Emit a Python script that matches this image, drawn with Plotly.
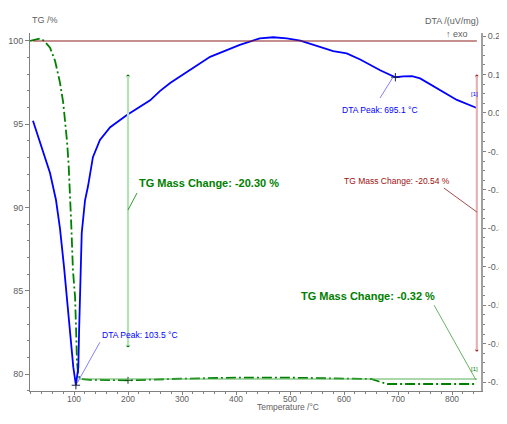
import plotly.graph_objects as go

# ---- data ----
tg_temp = [18.5, 26, 37, 45, 55.6, 65, 74, 80, 85, 87, 90, 92.6, 95, 98, 102, 104, 105.5, 108, 111,
           130, 200, 300, 400, 500, 600, 650, 665, 680, 700, 750, 800, 846]
tg_val = [100.0, 100.05, 100.15, 100.0, 99.6, 98.8, 97.5, 96.3, 94.8, 94.0, 92.6, 91.05, 88.9, 86.25, 84.6,
          82.5, 80.7, 79.95, 79.7, 79.65, 79.62, 79.72, 79.78, 79.78, 79.75, 79.7, 79.55, 79.4, 79.4, 79.4, 79.4, 79.4]

dta_temp = [24, 32, 40, 55.6, 66.7, 74, 81.5, 87.6, 92.6, 98.7, 103.5, 108, 109.3, 110.6, 112.4, 114.3,
            120.4, 126, 135, 148, 167, 198, 241, 259, 278, 296, 352, 407, 444, 469, 494, 519, 550, 580,
            605, 630, 667, 691, 695.1, 710, 726, 741, 778, 809, 846]
dta_val = [-0.02, -0.055, -0.09, -0.156, -0.227, -0.30, -0.40, -0.487, -0.573, -0.661, -0.708, -0.661,
           -0.573, -0.487, -0.401, -0.312, -0.227, -0.19, -0.115, -0.07, -0.037, -0.005, 0.033, 0.057,
           0.078, 0.094, 0.146, 0.177, 0.194, 0.197, 0.194, 0.188, 0.174, 0.161, 0.155, 0.139, 0.111,
           0.094, 0.093, 0.095, 0.096, 0.09, 0.06, 0.034, 0.013]

x_ticks = [100, 200, 300, 400, 500, 600, 700, 800]
tg_ticks = [80, 85, 90, 95, 100]
dta_tickvals = [0.2, 0.1, 0.0, -0.1, -0.2, -0.3, -0.4, -0.5, -0.6, -0.7]
dta_ticktext = ["0.20", "0.10", "0.0", "-0.10", "-0.20", "-0.30", "-0.40", "-0.50", "-0.60", "-0.70"]

step1_temp = 200
step1_range = [97.9, 81.7]
step1_label = "TG Mass Change: -20.30 %"
step2_label = "TG Mass Change: -0.32 %"
total_temp = 846
total_range = [97.9, 81.44]
total_label = "TG Mass Change: -20.54 %"
tg_level_after = 79.7
peak1 = (103.5, -0.708)
peak2 = (695.1, 0.093)

FONT = "Liberation Sans, Arial, sans-serif"
GREEN = "#008000"
BLUE = "#0000ff"
DRED = "#8b2020"
GRAY = "#606060"

fig = go.Figure()

fig.add_trace(go.Scatter(x=tg_temp, y=tg_val, mode="lines", yaxis="y",
                         line=dict(color=GREEN, width=1.8, dash="10px,3px,2px,3px"), showlegend=False))
fig.add_trace(go.Scatter(x=dta_temp, y=dta_val, mode="lines", yaxis="y2",
                         line=dict(color=BLUE, width=1.8), showlegend=False))

# baseline at 100 %
fig.add_shape(type="line", xref="x", yref="y", x0=24, x1=total_temp, y0=100, y1=100,
              line=dict(color=DRED, width=1.2))
# horizontal level after first step
fig.add_shape(type="line", xref="x", yref="y", x0=110, x1=total_temp, y0=tg_level_after, y1=tg_level_after,
              line=dict(color="#55b055", width=1))
# step 1 vertical
fig.add_shape(type="line", xref="x", yref="y", x0=step1_temp, x1=step1_temp, y0=step1_range[0], y1=step1_range[1],
              line=dict(color="#b8e0b8", width=2.2))
# total vertical (red)
fig.add_shape(type="line", xref="x", yref="y", x0=total_temp, x1=total_temp, y0=total_range[0], y1=total_range[1],
              line=dict(color="#e8b0b0", width=2.2))
# end dots
fig.add_trace(go.Scatter(x=[step1_temp, step1_temp], y=step1_range, mode="markers", yaxis="y",
                         marker=dict(color=GREEN, size=3), showlegend=False))
fig.add_trace(go.Scatter(x=[total_temp, total_temp], y=total_range, mode="markers", yaxis="y",
                         marker=dict(color="#a03030", size=3), showlegend=False))
# peak markers
fig.add_trace(go.Scatter(x=[peak1[0], peak2[0]], y=[peak1[1], peak2[1]], mode="markers", yaxis="y2",
                         marker=dict(symbol="cross-thin", size=6, line=dict(color="#202040", width=1)),
                         showlegend=False))
fig.add_trace(go.Scatter(x=[step1_temp], y=[79.62], mode="markers", yaxis="y",
                         marker=dict(symbol="cross-thin", size=5, line=dict(color="#204020", width=1)),
                         showlegend=False))

# leader lines
fig.add_shape(type="line", xref="x", yref="y", x0=216.7, y0=90.87, x1=200, y1=89.85,
              line=dict(color=GREEN, width=0.8))
fig.add_shape(type="line", xref="x", yref="y", x0=766.7, y0=84.14, x1=844.4, y1=79.64,
              line=dict(color="#40a040", width=0.8))
fig.add_shape(type="line", xref="x", yref="y", x0=785, y0=91.17, x1=846, y1=89.73,
              line=dict(color=DRED, width=0.8))
fig.add_shape(type="line", xref="x", yref="y2", x0=148, y0=-0.596, x1=105.5, y1=-0.703,
              line=dict(color="#6060ff", width=0.8))
fig.add_shape(type="line", xref="x", yref="y2", x0=666.7, y0=0.039, x1=690.7, y1=0.093,
              line=dict(color="#6060ff", width=0.8))

# page has an 8px body margin; size the figure so the plot area lands where the reference has it
# and so that the page fits the window exactly (no scrollbar)
OFF = 8
fig_w, fig_h = 507 - OFF, 424 - 2 * OFF
L, T = 30 - OFF, 33 - OFF
R = fig_w - L - 451
B = fig_h - T - 358
pw, ph = fig_w - L - R, fig_h - T - B
def px(xp):
    return (xp - OFF - L) / pw
def py(yp):
    return (fig_h - B - (yp - OFF)) / ph

ann = []
ann.append(dict(x=216.7, y=91.47, xref="x", yref="y", text=step1_label, showarrow=False, xanchor="left",
                font=dict(family=FONT, size=11, color=GREEN, weight="bold")))
ann.append(dict(x=516.7, y=84.68, xref="x", yref="y", text=step2_label, showarrow=False, xanchor="left",
                font=dict(family=FONT, size=11, color=GREEN, weight="bold")))
ann.append(dict(x=596, y=91.6, xref="x", yref="y", text=total_label, showarrow=False, xanchor="left",
                font=dict(family=FONT, size=8.5, color="#a01010")))
ann.append(dict(x=148, y=-0.578, xref="x", yref="y2", text="DTA Peak: 103.5 °C", showarrow=False, xanchor="left",
                font=dict(family=FONT, size=8.5, color=BLUE)))
ann.append(dict(x=592.6, y=0.007, xref="x", yref="y2", text="DTA Peak: 695.1 °C", showarrow=False, xanchor="left",
                font=dict(family=FONT, size=8.5, color=BLUE)))
ann.append(dict(x=842, y=80.3, xref="x", yref="y", text="[1]", showarrow=False,
                font=dict(family=FONT, size=6, color=GREEN)))
ann.append(dict(x=842, y=0.05, xref="x", yref="y2", text="[1]", showarrow=False,
                font=dict(family=FONT, size=6, color=BLUE)))
ann.append(dict(x=px(30), y=py(13), xref="paper", yref="paper", text="TG /%", showarrow=False,
                font=dict(family=FONT, size=9, color=GRAY)))
ann.append(dict(x=px(481), y=py(14), xref="paper", yref="paper", text="DTA /(uV/mg)", showarrow=False,
                font=dict(family=FONT, size=9, color=GRAY)))
ann.append(dict(x=px(470), y=py(27), xref="paper", yref="paper", text="↑ exo", showarrow=False,
                font=dict(family=FONT, size=9, color=GRAY)))
ann.append(dict(x=px(288), y=py(413.5), xref="paper", yref="paper", text="Temperature /°C", showarrow=False,
                font=dict(family=FONT, size=8.5, color=GRAY)))

tickfont = dict(family=FONT, size=9, color=GRAY)
fig.update_layout(
    width=fig_w, height=fig_h,
    margin=dict(l=L, r=R, t=T, b=B, pad=0),
    paper_bgcolor="white", plot_bgcolor="white",
    font=dict(family=FONT, size=9, color=GRAY),
    annotations=ann,
    xaxis=dict(range=[18.5, 853.7], tickvals=x_ticks, showgrid=False, zeroline=False, automargin=False,
               showline=True, linecolor="#808080", linewidth=1, ticks="outside", ticklen=3,
               ticklabelstandoff=-3,
               tickcolor="#808080", tickfont=dict(family=FONT, size=8.5, color=GRAY),
               minor=dict(dtick=20, tick0=0, ticks="outside", ticklen=2, tickcolor="#808080")),
    yaxis=dict(range=[78.98, 100.48], tickvals=tg_ticks, showgrid=False, zeroline=False, automargin=False,
               showline=True, linecolor="#808080", linewidth=1, ticks="outside", ticklen=4,
               tickcolor="#808080", tickfont=tickfont,
               minor=dict(dtick=1, tick0=0, ticks="outside", ticklen=2, tickcolor="#808080")),
    yaxis2=dict(range=[-0.723, 0.208], overlaying="y", side="right", tickvals=dta_tickvals,
                ticktext=dta_ticktext, showgrid=False, zeroline=False, automargin=False,
                showline=True, linecolor="#a0a0a0", linewidth=2, ticks="outside", ticklen=3,
                tickcolor="#808080", tickfont=tickfont,
                minor=dict(dtick=0.025, tick0=0, ticks="outside", ticklen=2, tickcolor="#808080")),
)

fig.write_html("out.html")
